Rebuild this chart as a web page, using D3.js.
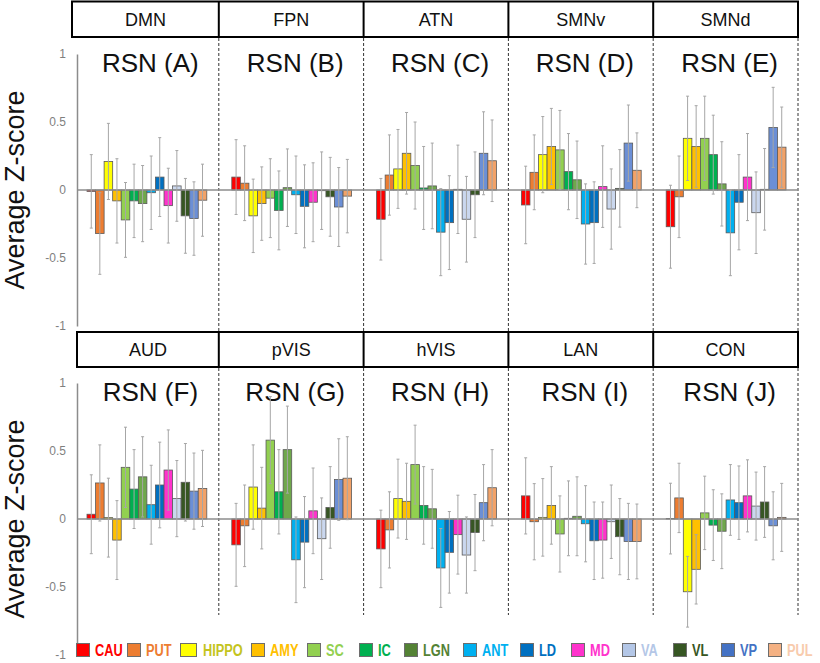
<!DOCTYPE html>
<html>
<head>
<meta charset="utf-8">
<script src="https://cdn.jsdelivr.net/npm/d3@7"></script>
<style>
  html, body { margin: 0; padding: 0; background: #fff; }
  svg { display: block; font-family: "Liberation Sans", Arial, sans-serif; }
</style>
</head>
<body>
<svg id="chart" width="820" height="663"></svg>
<script>
// ---------- data ----------
const regions = ["CAU","PUT","HIPPO","AMY","SC","IC","LGN","ANT","LD","MD","VA","VL","VP","PUL"];
const barColors = ["#FF0000","#ED7D31","#FFFF00","#FFC000","#92D050","#00B050","#6FA84B","#00B0F0","#0070C0","#FF33CC","#CAD7EE","#375623","#6B8FD6","#F2A268"];
const swatchColors = ["#FF0000","#ED7D31","#FFFF00","#FFC000","#92D050","#00B050","#548235","#00B0F0","#0070C0","#FF33CC","#B4C7E7","#375623","#4472C4","#F4B183"];
const legendTextColors = ["#FF0000","#ED7D31","#C4C41E","#FFC000","#92D050","#00B050","#548235","#00B0F0","#0070C0","#FF33CC","#B4C7E7","#375623","#4472C4","#F8CBAD"];

const networksTop = ["DMN","FPN","ATN","SMNv","SMNd"];
const networksBottom = ["AUD","pVIS","hVIS","LAN","CON"];
const lettersTop = ["A","B","C","D","E"];
const lettersBottom = ["F","G","H","I","J"];
const yTicks = [-1, -0.5, 0, 0.5, 1];

const meanA = [-0.01,-0.32,0.21,-0.08,-0.22,-0.08,-0.10,-0.02,0.095,-0.115,0.03,-0.19,-0.21,-0.075];
const errA  = [0.27,0.30,0.28,0.31,0.275,0.27,0.28,0.27,0.29,0.275,0.26,0.275,0.27,0.265];
const meanB = [0.095,0.05,-0.19,-0.10,-0.06,-0.15,0.017,-0.035,-0.12,-0.09,-0.005,-0.05,-0.125,-0.045];
const errB  = [0.275,0.275,0.27,0.27,0.29,0.29,0.285,0.285,0.305,0.29,0.285,0.29,0.29,0.27];
const meanC = [-0.215,0.11,0.155,0.27,0.18,0.015,0.03,-0.31,-0.24,0.005,-0.215,-0.035,0.27,0.215];
const errC  = [0.30,0.295,0.29,0.30,0.32,0.305,0.315,0.32,0.345,0.325,0.315,0.315,0.305,0.30];
const meanD = [-0.11,0.13,0.26,0.32,0.295,0.135,0.075,-0.25,-0.24,0.025,-0.14,0.012,0.345,0.145];
const errD  = [0.285,0.275,0.28,0.28,0.29,0.28,0.285,0.295,0.30,0.30,0.295,0.285,0.28,0.275];
const meanE = [-0.27,-0.05,0.38,0.32,0.38,0.26,0.045,-0.315,-0.09,0.095,-0.167,0.005,0.46,0.315];
const errE  = [0.305,0.30,0.31,0.30,0.31,0.29,0.31,0.315,0.35,0.32,0.30,0.30,0.295,0.295];
const meanF = [0.035,0.265,0.01,-0.155,0.38,0.22,0.31,0.105,0.25,0.36,0.15,0.27,0.205,0.225];
const errF  = [0.29,0.28,0.29,0.29,0.295,0.29,0.295,0.29,0.315,0.295,0.28,0.285,0.28,0.28];
const meanG = [-0.19,-0.05,0.235,0.08,0.58,0.20,0.51,-0.30,-0.17,0.06,-0.145,0.085,0.29,0.30];
const errG  = [0.305,0.30,0.31,0.30,0.32,0.31,0.32,0.315,0.335,0.315,0.30,0.30,0.30,0.305];
const meanH = [-0.22,-0.08,0.15,0.13,0.40,0.10,0.075,-0.36,-0.245,-0.115,-0.265,-0.10,0.12,0.23];
const errH  = [0.285,0.28,0.29,0.28,0.29,0.285,0.29,0.29,0.30,0.29,0.28,0.28,0.28,0.28];
const meanI = [0.17,-0.02,0.012,0.10,-0.11,0.005,0.02,-0.035,-0.16,-0.155,-0.02,-0.13,-0.165,-0.165];
const errI  = [0.28,0.28,0.285,0.285,0.28,0.275,0.29,0.28,0.285,0.28,0.27,0.28,0.28,0.275];
const meanJ = [0.003,0.155,-0.535,-0.37,0.045,-0.045,-0.09,0.14,0.12,0.17,0.095,0.125,-0.05,0.012];
const errJ  = [0.26,0.255,0.26,0.255,0.27,0.26,0.275,0.26,0.27,0.265,0.25,0.26,0.25,0.25];

const meansTop = [meanA, meanB, meanC, meanD, meanE];
const errsTop = [errA, errB, errC, errD, errE];
const meansBottom = [meanF, meanG, meanH, meanI, meanJ];
const errsBottom = [errF, errG, errH, errI, errJ];

// ---------- layout ----------
const svg = d3.select("#chart");
const xOuter = d3.scaleBand().domain(d3.range(5)).range([74, 798]).padding(0);
const xInner = d3.scaleBand().domain(regions).range([13, xOuter.bandwidth() - 12]).padding(0);

const rows = [
  { nets: networksTop, letters: lettersTop, means: meansTop, errs: errsTop,
    yRange: [326, 54], boxTop: 1.5, boxBottom: 37, boxLeft: 72, dashTop: 38, dashBottom: 331 },
  { nets: networksBottom, letters: lettersBottom, means: meansBottom, errs: errsBottom,
    yRange: [655, 383], boxTop: 332, boxBottom: 367, boxLeft: 77, dashTop: 368, dashBottom: 615 }
];

rows.forEach((row) => {
  const y = d3.scaleLinear().domain([-1, 1]).range(row.yRange);
  const g = svg.append("g");

  g.append("text")
    .attr("transform", `translate(24,${y(0)}) rotate(-90)`)
    .attr("text-anchor", "middle")
    .attr("font-size", 27)
    .attr("fill", "#111")
    .text("Average Z-score");

  g.selectAll("line.sep").data(d3.range(5)).enter().append("line")
    .attr("class", "sep")
    .attr("x1", i => xOuter(i) + xOuter.bandwidth())
    .attr("x2", i => xOuter(i) + xOuter.bandwidth())
    .attr("y1", row.dashTop).attr("y2", row.dashBottom)
    .attr("stroke", "#333").attr("stroke-width", 1)
    .attr("stroke-dasharray", "3,2");

  const hb = g.append("g");
  hb.append("rect")
    .attr("x", row.boxLeft).attr("y", row.boxTop)
    .attr("width", 798 - row.boxLeft).attr("height", row.boxBottom - row.boxTop)
    .attr("fill", "#fff").attr("stroke", "#000").attr("stroke-width", 2);
  hb.selectAll("line.div").data(d3.range(1, 5)).enter().append("line")
    .attr("x1", i => xOuter(i)).attr("x2", i => xOuter(i))
    .attr("y1", row.boxTop).attr("y2", row.boxBottom)
    .attr("stroke", "#000").attr("stroke-width", 2);
  hb.selectAll("text").data(row.nets).enter().append("text")
    .attr("x", (d, i) => {
      const l = i === 0 ? row.boxLeft : xOuter(i);
      const r = xOuter(i) + xOuter.bandwidth();
      return (l + r) / 2;
    })
    .attr("y", (row.boxTop + row.boxBottom) / 2 + 6.5)
    .attr("text-anchor", "middle")
    .attr("font-size", 18)
    .attr("fill", "#111")
    .text(d => d);

  const axis = d3.axisLeft(y).tickValues(yTicks).tickSize(0).tickSizeOuter(0)
    .tickPadding(11).tickFormat(d => String(d));
  const ag = g.append("g").attr("transform", "translate(77,0)").call(axis);
  ag.select(".domain").attr("stroke", "#8c8c8c").attr("stroke-width", 1.5);
  ag.selectAll("text").attr("font-size", 12).attr("fill", "#7f7f7f")
    .attr("font-family", "'Liberation Sans', Arial, sans-serif");

  row.means.forEach((vals, pi) => {
    const pg = g.append("g").attr("transform", `translate(${xOuter(pi)},0)`);
    pg.append("text")
      .attr("x", xOuter.bandwidth() / 2 + 4)
      .attr("y", y(1) + 18)
      .attr("text-anchor", "middle")
      .attr("font-size", 26)
      .attr("fill", "#111")
      .text(`RSN (${row.letters[pi]})`);
    pg.selectAll("rect.bar").data(vals).enter().append("rect")
      .attr("class", "bar")
      .attr("x", (d, i) => xInner(regions[i]))
      .attr("width", xInner.bandwidth())
      .attr("y", d => y(Math.max(0, d)))
      .attr("height", d => Math.abs(y(d) - y(0)))
      .attr("fill", (d, i) => barColors[i])
      .attr("stroke", "#5a5a5a").attr("stroke-width", 0.8);
  });

  g.append("line")
    .attr("x1", 77).attr("x2", 798)
    .attr("y1", y(0)).attr("y2", y(0))
    .attr("stroke", "#8c8c8c").attr("stroke-width", 1.5);

  row.means.forEach((vals, pi) => {
    const pg = g.append("g").attr("transform", `translate(${xOuter(pi)},0)`);
    const errs = row.errs[pi];
    const eb = pg.selectAll("g.eb").data(vals).enter().append("g").attr("class", "eb");
    const cx = (i) => xInner(regions[i]) + xInner.bandwidth() / 2;
    eb.append("line")
      .attr("x1", (d, i) => cx(i)).attr("x2", (d, i) => cx(i))
      .attr("y1", (d, i) => y(d + errs[i])).attr("y2", (d, i) => y(d - errs[i]))
      .attr("stroke", "#a6a6a6").attr("stroke-width", 1);
    eb.append("line")
      .attr("x1", (d, i) => cx(i) - 1.5).attr("x2", (d, i) => cx(i) + 1.5)
      .attr("y1", (d, i) => y(d + errs[i])).attr("y2", (d, i) => y(d + errs[i]))
      .attr("stroke", "#a6a6a6").attr("stroke-width", 1);
    eb.append("line")
      .attr("x1", (d, i) => cx(i) - 1.5).attr("x2", (d, i) => cx(i) + 1.5)
      .attr("y1", (d, i) => y(d - errs[i])).attr("y2", (d, i) => y(d - errs[i]))
      .attr("stroke", "#a6a6a6").attr("stroke-width", 1);
  });
});

// ---------- legend ----------
const legendX = [76,127,180,251,307,359,404,463,520,571,622,673,721,768];
const lg = svg.append("g");
const li = lg.selectAll("g").data(regions).enter().append("g")
  .attr("transform", (d, i) => `translate(${legendX[i]},643)`);
li.append("rect")
  .attr("x", 0.5).attr("y", 0.5)
  .attr("width", (d, i) => i === 2 ? 16 : 13).attr("height", 13)
  .attr("fill", (d, i) => swatchColors[i])
  .attr("stroke", "#6d6d6d").attr("stroke-width", 1);
li.append("text")
  .attr("x", (d, i) => i === 2 ? 23 : 19)
  .attr("y", 13)
  .attr("font-family", "'Liberation Sans', Arial, sans-serif")
  .attr("font-weight", "bold")
  .attr("font-size", 16)
  .attr("fill", (d, i) => legendTextColors[i])
  .text(d => d)
  .each(function () {
    const w = this.getComputedTextLength();
    d3.select(this).attr("textLength", (w * 0.8).toFixed(1)).attr("lengthAdjust", "spacingAndGlyphs");
  });
</script>
</body>
</html>
